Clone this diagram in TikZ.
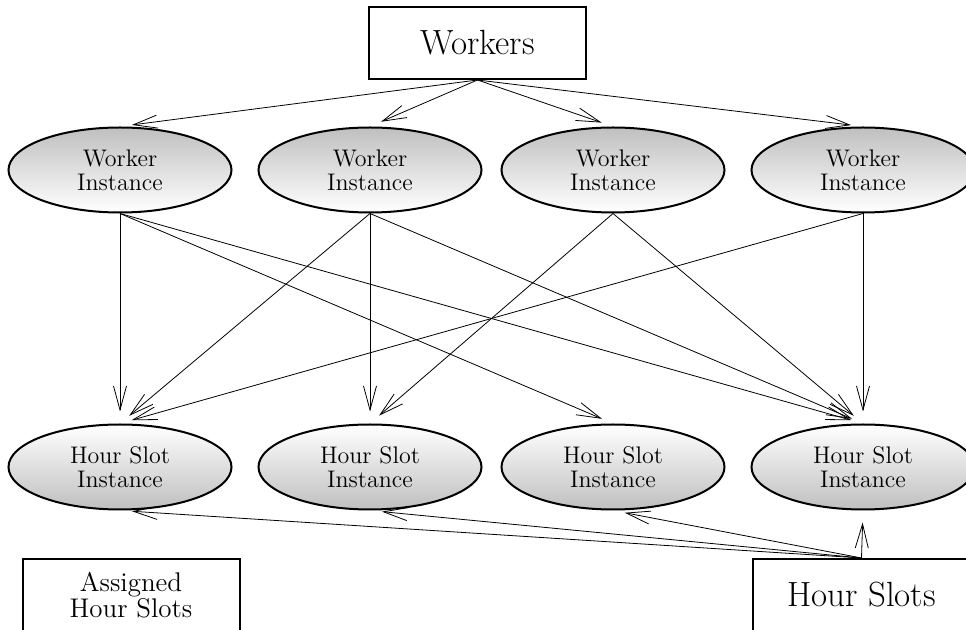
\documentclass[tikz,border=0pt]{standalone}
\usetikzlibrary{shapes.geometric,arrows.meta}
\begin{document}
\begin{tikzpicture}[x=0.5pt,y=-0.5pt,
  box/.style={draw, line width=1pt, rectangle, minimum width=108.5pt, minimum height=36pt, inner sep=0pt, align=center},
  inst/.style={draw, line width=1pt, ellipse, minimum width=111.5pt, minimum height=42.5pt, inner sep=0pt, align=center, font=\fontsize{12}{12}\selectfont},
  winst/.style={inst, top color=black!25, bottom color=white},
  hinst/.style={inst, top color=white, bottom color=black!25},
  conn/.style={line width=0.4pt, -{Straight Barb[length=12pt,width=6.5pt]}, shorten >=6pt}]
\useasboundingbox (0,0) rectangle (966,630);
\node[box, font=\fontsize{17.5}{17.5}\selectfont] (workers) at (477.5,43) {Workers};
\node[winst] (w1) at (120,170) {Worker\\Instance};
\node[winst] (w2) at (370,170) {Worker\\Instance};
\node[winst] (w3) at (613,170) {Worker\\Instance};
\node[winst] (w4) at (863,170) {Worker\\Instance};
\node[hinst] (h1) at (120,467) {Hour Slot\\Instance};
\node[hinst] (h2) at (370,467) {Hour Slot\\Instance};
\node[hinst] (h3) at (613,467) {Hour Slot\\Instance};
\node[hinst] (h4) at (863,467) {Hour Slot\\Instance};
\node[box, font=\fontsize{13.5}{13.3}\selectfont] (assigned) at (131,595) {Assigned\\Hour Slots};
\node[box, font=\fontsize{17.5}{17.5}\selectfont] (slots) at (861.5,595) {Hour Slots};
\foreach \w in {w1,w2,w3,w4} \draw[conn] (workers.south) -- (\w.north);
\draw[conn] (w1.south) -- (h1.north);
\draw[conn] (w1.south) -- (h3.north);
\draw[conn] (w1.south) -- (h4.north);
\draw[conn] (w2.south) -- (h1.north);
\draw[conn] (w2.south) -- (h2.north);
\draw[conn] (w2.south) -- (h4.north);
\draw[conn] (w3.south) -- (h2.north);
\draw[conn] (w3.south) -- (h4.north);
\draw[conn] (w4.south) -- (h1.north);
\draw[conn] (w4.south) -- (h4.north);
\foreach \h in {h1,h2,h3,h4} \draw[conn] (slots.north) -- (\h.south);
\end{tikzpicture}
\end{document}
